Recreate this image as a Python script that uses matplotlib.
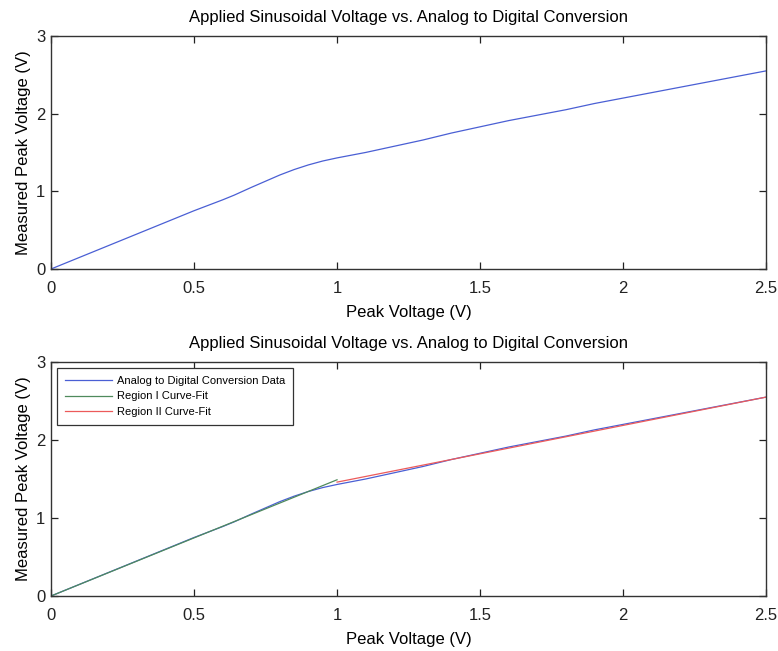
import matplotlib
matplotlib.use("Agg")
from matplotlib import pyplot as plt

plt.rcParams["font.family"] = ["Liberation Sans", "DejaVu Sans"]

# measured peak voltage
peak_v = [0, 0.1, 0.2, 0.3, 0.4, 0.5, 0.6, 0.64, 0.7, 0.75, 0.8, 0.85, 0.9, 0.95,
          1.0, 1.1, 1.2, 1.3, 1.4, 1.5, 1.6, 1.7, 1.8, 1.9, 2.0, 2.1, 2.2, 2.3,
          2.4, 2.5]
measured_v = [0, 0.15, 0.30, 0.45, 0.60, 0.75, 0.89, 0.95, 1.05, 1.13, 1.21, 1.28,
              1.34, 1.39, 1.43, 1.50, 1.58, 1.66, 1.75, 1.83, 1.91, 1.98, 2.05,
              2.13, 2.20, 2.27, 2.34, 2.41, 2.48, 2.55]

# curve-fit lines
region1_x = [0, 0.5, 1.0]
region1_y = [0, 0.745, 1.49]
region2_x = [1.0, 1.5, 2.0, 2.5]
region2_y = [1.46, 1.823, 2.187, 2.55]

title = "Applied Sinusoidal Voltage vs. Analog to Digital Conversion"
xticks = [0, 0.5, 1, 1.5, 2, 2.5]
xticklabels = ["0", "0.5", "1", "1.5", "2", "2.5"]
yticks = [0, 1, 2, 3]

c_data = "#4a5fd4"
c_r1 = "#4f8a5c"
c_r2 = "#ec5a5a"

fig = plt.figure(figsize=(7.78, 6.51), dpi=100)
ax1 = fig.add_axes([0.0656, 0.5868, 0.919, 0.358])
ax2 = fig.add_axes([0.0656, 0.0845, 0.919, 0.3594])


def style(ax):
    ax.set_xlim(0, 2.5)
    ax.set_ylim(0, 3)
    ax.set_xticks(xticks)
    ax.set_xticklabels(xticklabels)
    ax.set_yticks(yticks)
    ax.tick_params(direction="in", length=5, width=0.9, top=True, right=True,
                   labelsize=12, colors="#222222")
    ax.tick_params(axis="x", pad=9)
    ax.tick_params(axis="y", pad=4)
    for s in ax.spines.values():
        s.set_color("#333333")
        s.set_linewidth(1.0)
    ax.set_title(title, fontsize=12, y=1.0, pad=10)
    ax.set_xlabel("Peak Voltage (V)", fontsize=12, labelpad=6)
    ax.set_ylabel("Measured Peak Voltage (V)", fontsize=12, labelpad=4)


ax1.plot(peak_v, measured_v, color=c_data, lw=0.9)
style(ax1)

ax2.plot(peak_v, measured_v, color=c_data, lw=0.9,
         label="Analog to Digital Conversion Data")
ax2.plot(region1_x, region1_y, color=c_r1, lw=0.9, label="Region I Curve-Fit")
ax2.plot(region2_x, region2_y, color=c_r2, lw=0.9, label="Region II Curve-Fit")
style(ax2)
leg = ax2.legend(loc="upper left", fontsize=8, fancybox=False, framealpha=1,
                 edgecolor="#333333", borderaxespad=0.5, handlelength=4.2,
                 handletextpad=0.45, borderpad=0.75, labelspacing=0.5)
leg.get_frame().set_linewidth(0.9)

fig.savefig("out.png", dpi=100)
